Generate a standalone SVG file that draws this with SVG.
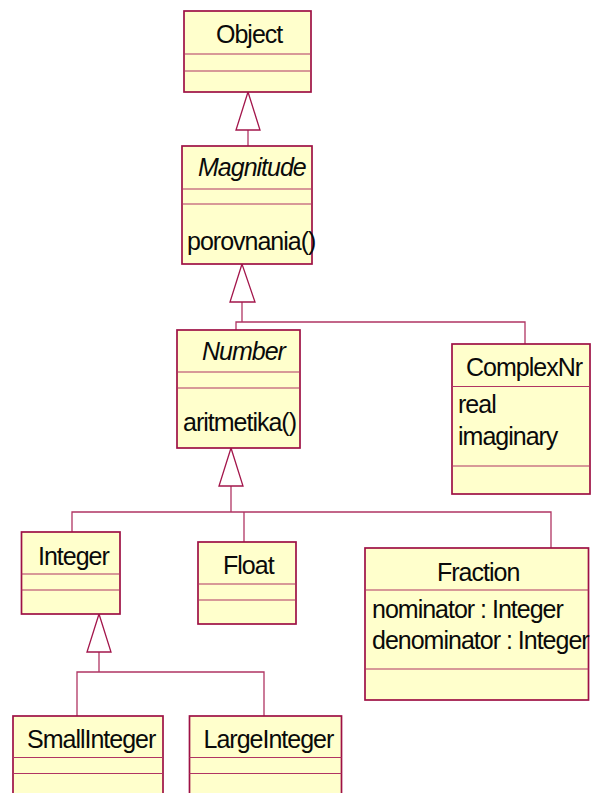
<svg xmlns="http://www.w3.org/2000/svg" width="600" height="793" viewBox="0 0 600 793">
  <defs>
    <style>
      .box { fill: #FFFFCC; stroke: #9E1145; stroke-width: 1.7; }
      .div { stroke: #B03563; stroke-width: 1.2; fill: none; }
      .con { stroke: #B03563; stroke-width: 1.3; fill: none; }
      .gen { fill: #FFFFFF; stroke: #A3164B; stroke-width: 1.3; }
      text { font-family: "Liberation Sans", Arial, sans-serif; font-size: 25px; fill: #0A0A0A; letter-spacing: -1px; }
      .abs { font-style: italic; }
    </style>
  </defs>

  <!-- connectors: generalization trees -->
  <g id="connectors">
    <!-- Magnitude -> Object -->
    <line class="con" x1="248" y1="130" x2="248" y2="146"/>
    <polygon class="gen" points="248,92 236,130 260,130"/>

    <!-- Number, ComplexNr -> Magnitude -->
    <polyline class="con" points="242,302 242,322"/>
    <polyline class="con" points="236,330 236,322 525,322 525,344"/>
    <polygon class="gen" points="242,264 230,302 255,302"/>

    <!-- Integer, Float, Fraction -> Number -->
    <line class="con" x1="231" y1="486" x2="231" y2="512"/>
    <polyline class="con" points="72,532 72,512 551,512 551,548"/>
    <line class="con" x1="244" y1="512" x2="244" y2="542"/>
    <polygon class="gen" points="231,448 219,486 243,486"/>

    <!-- SmallInteger, LargeInteger -> Integer -->
    <line class="con" x1="99" y1="652" x2="99" y2="672"/>
    <polyline class="con" points="77,716 77,672 264,672 264,716"/>
    <polygon class="gen" points="99,614 87,652 111,652"/>
  </g>

  <g id="Object">
    <rect class="box" x="184" y="11" width="127" height="81"/>
    <line class="div" x1="184" y1="54" x2="311" y2="54"/>
    <line class="div" x1="184" y1="71" x2="311" y2="71"/>
    <text x="216" y="43">Object</text>
  </g>

  <g id="Magnitude">
    <rect class="box" x="182" y="146" width="130" height="118"/>
    <line class="div" x1="182" y1="189" x2="312" y2="189"/>
    <line class="div" x1="182" y1="204" x2="312" y2="204"/>
    <text class="abs" x="198" y="176">Magnitude</text>
    <text x="187" y="250">porovnania()</text>
  </g>

  <g id="Number">
    <rect class="box" x="177" y="330" width="123" height="118"/>
    <line class="div" x1="177" y1="372" x2="300" y2="372"/>
    <line class="div" x1="177" y1="388" x2="300" y2="388"/>
    <text class="abs" x="202" y="360">Number</text>
    <text x="183" y="431">aritmetika()</text>
  </g>

  <g id="ComplexNr">
    <rect class="box" x="452" y="344" width="138" height="150"/>
    <line class="div" x1="452" y1="386.5" x2="590" y2="386.5"/>
    <line class="div" x1="452" y1="466" x2="590" y2="466"/>
    <text x="466" y="376">ComplexNr</text>
    <text x="458" y="413">real</text>
    <text x="458" y="445">imaginary</text>
  </g>

  <g id="Integer">
    <rect class="box" x="21.5" y="532" width="98.5" height="82"/>
    <line class="div" x1="21.5" y1="574" x2="120" y2="574"/>
    <line class="div" x1="21.5" y1="590" x2="120" y2="590"/>
    <text x="38" y="565">Integer</text>
  </g>

  <g id="Float">
    <rect class="box" x="198" y="542" width="98" height="82"/>
    <line class="div" x1="198" y1="584" x2="296" y2="584"/>
    <line class="div" x1="198" y1="600" x2="296" y2="600"/>
    <text x="223" y="574">Float</text>
  </g>

  <g id="Fraction">
    <rect class="box" x="365" y="548" width="223.5" height="152"/>
    <line class="div" x1="365" y1="590" x2="588.5" y2="590"/>
    <line class="div" x1="365" y1="669" x2="588.5" y2="669"/>
    <text x="437" y="581">Fraction</text>
    <text x="372" y="618">nominator : Integer</text>
    <text x="372" y="649">denominator : Integer</text>
  </g>

  <g id="SmallInteger">
    <rect class="box" x="13" y="716" width="150" height="90"/>
    <line class="div" x1="13" y1="757.5" x2="163" y2="757.5"/>
    <line class="div" x1="13" y1="773.5" x2="163" y2="773.5"/>
    <text x="27" y="748">SmallInteger</text>
  </g>

  <g id="LargeInteger">
    <rect class="box" x="189.5" y="716" width="152" height="90"/>
    <line class="div" x1="189.5" y1="757.5" x2="341.5" y2="757.5"/>
    <line class="div" x1="189.5" y1="773.5" x2="341.5" y2="773.5"/>
    <text x="203.5" y="748">LargeInteger</text>
  </g>
</svg>
